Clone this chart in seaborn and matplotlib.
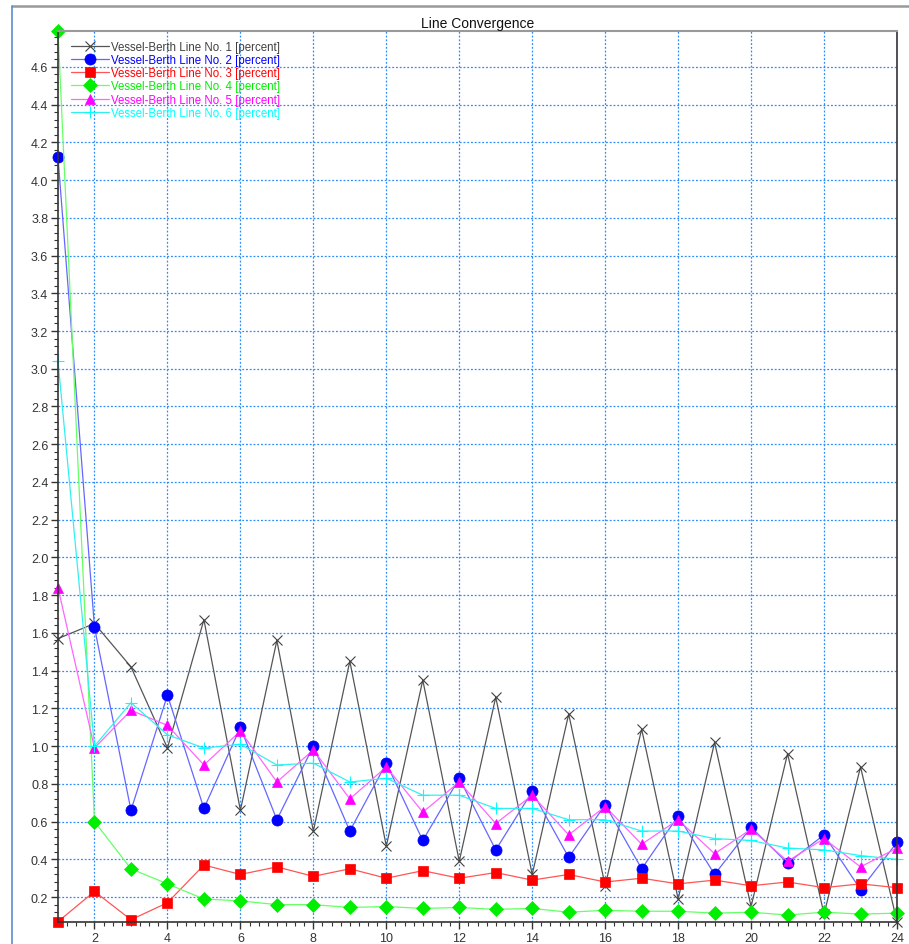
import matplotlib
matplotlib.use("Agg")
import matplotlib.pyplot as plt
import seaborn as sns
import pandas as pd
from matplotlib.lines import Line2D
from matplotlib.ticker import MultipleLocator, FormatStrFormatter

# Iteration index on the x axis
iterations = list(range(1, 25))

line1 = [1.57, 1.65, 1.42, 0.99, 1.67, 0.66, 1.56, 0.55, 1.45, 0.47, 1.35, 0.39,
         1.26, 0.32, 1.17, 0.26, 1.09, 0.19, 1.02, 0.15, 0.96, 0.11, 0.89, 0.07]
line2 = [4.12, 1.63, 0.66, 1.27, 0.67, 1.10, 0.61, 1.00, 0.55, 0.91, 0.50, 0.83,
         0.45, 0.76, 0.41, 0.69, 0.35, 0.63, 0.32, 0.57, 0.38, 0.53, 0.24, 0.49]
line3 = [0.07, 0.23, 0.08, 0.17, 0.37, 0.32, 0.36, 0.31, 0.35, 0.30, 0.34, 0.30,
         0.33, 0.29, 0.32, 0.28, 0.30, 0.27, 0.29, 0.26, 0.28, 0.25, 0.27, 0.25]
line4 = [4.79, 0.60, 0.35, 0.27, 0.19, 0.18, 0.16, 0.16, 0.145, 0.15, 0.14, 0.145,
         0.135, 0.14, 0.12, 0.13, 0.125, 0.125, 0.115, 0.12, 0.105, 0.12, 0.11, 0.115]
line5 = [1.84, 0.99, 1.19, 1.11, 0.90, 1.08, 0.81, 0.98, 0.72, 0.89, 0.65, 0.81,
         0.59, 0.74, 0.53, 0.68, 0.48, 0.61, 0.43, 0.56, 0.39, 0.51, 0.36, 0.46]
line6 = [3.04, 1.00, 1.23, 1.06, 0.99, 1.01, 0.90, 0.91, 0.81, 0.83, 0.74, 0.74,
         0.67, 0.67, 0.61, 0.61, 0.55, 0.55, 0.51, 0.50, 0.46, 0.45, 0.42, 0.40]

labels = ["Vessel-Berth Line No. %d [percent]" % i for i in range(1, 7)]
series = [line1, line2, line3, line4, line5, line6]

# marker colour, line colour, marker, marker size
styles = [
    ("#404040", "#555555", "x", 7),
    ("#0000ff", "#6666ff", "o", 8),
    ("#ff0000", "#ff5555", "s", 7.5),
    ("#00ee00", "#66ff66", "D", 7),
    ("#ff00ff", "#ff66ff", "^", 7.5),
    ("#00ffff", "#33f0f0", "+", 8),
]

sns.set_theme(style="white")
plt.rcParams["font.family"] = ["Liberation Sans", "DejaVu Sans"]

fig = plt.figure(figsize=(9.09, 9.45), dpi=100)
ax = fig.add_axes([58 / 909, 22 / 945, 839 / 909, 891 / 945])

for label, values, (mcol, lcol, mk, ms) in zip(labels, series, styles):
    df = pd.DataFrame({"iteration": iterations, "value": values})
    sns.lineplot(data=df, x="iteration", y="value", ax=ax, color=lcol,
                 marker=mk, markersize=ms, markerfacecolor=mcol,
                 markeredgecolor=mcol, markeredgewidth=0.8 if mk in "x+" else 0.5,
                 linewidth=0.9, label=label, clip_on=False)

ax.set_xlim(1, 24)
ax.set_ylim(0.068, 4.79)
ax.xaxis.set_major_locator(MultipleLocator(2))
ax.xaxis.set_minor_locator(MultipleLocator(0.25))
ax.yaxis.set_major_locator(MultipleLocator(0.2))
ax.yaxis.set_minor_locator(MultipleLocator(0.04))
ax.yaxis.set_major_formatter(FormatStrFormatter("%.1f"))
ax.set_xlabel("")
ax.set_ylabel("")
ax.tick_params(which="major", direction="out", length=5, width=1, color="#333333",
               labelsize=9, labelcolor="#333333", pad=2, bottom=True, left=True)
ax.tick_params(which="minor", direction="out", length=3, width=0.8, color="#333333",
               bottom=True, left=True)
ax.grid(which="major", color="#2b8cff", linestyle=(0, (1.5, 1.5)), linewidth=0.9)

for side in ["left", "bottom", "right"]:
    ax.spines[side].set_color("#333333")
    ax.spines[side].set_linewidth(1.2)
ax.spines["top"].set_color("#999999")
ax.spines["top"].set_linewidth(1.5)

ax.set_title("Line Convergence", fontsize=10, color="#111111", pad=3)

leg = ax.legend(loc="upper left", bbox_to_anchor=(0.01, 0.994), frameon=False,
                fontsize=8.3, labelcolor="markerfacecolor", handlelength=3.3,
                handletextpad=0.2, labelspacing=0.1, borderaxespad=0.2,
                borderpad=0.2)

# window frame lines around the chart
fig.add_artist(Line2D([12 / 909, 1], [1 - 7 / 945, 1 - 7 / 945], color="#999999",
                      linewidth=1.8))
fig.add_artist(Line2D([12 / 909, 12 / 909], [0, 1 - 7 / 945], color="#5b8fc9",
                      linewidth=1.2))

fig.savefig("out.png", dpi=100)
